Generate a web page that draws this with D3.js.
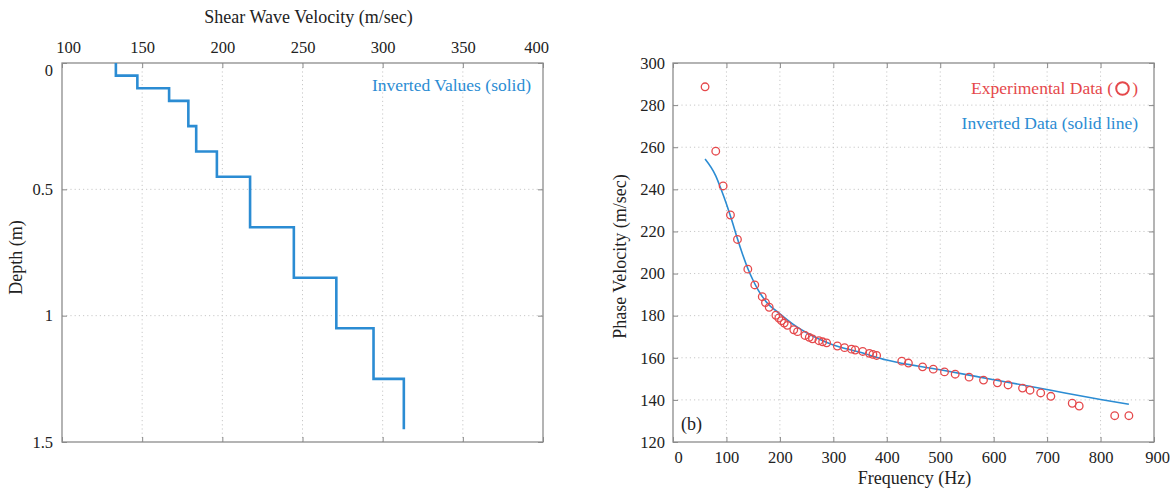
<!DOCTYPE html>
<html>
<head>
<meta charset="utf-8">
<script src="https://cdn.jsdelivr.net/npm/d3@7"></script>
<style>
  body { margin: 0; background: #fff; }
  svg text { font-family: "Liberation Serif", "DejaVu Serif", serif; fill: #222; }
  .grid line { stroke: #c8c8c8; stroke-dasharray: 1.2,3; stroke-width: 1; }
  .ax path { display: none; }
  .ax line { stroke: #888; }
  .ax text { font-size: 16.5px; }
</style>
</head>
<body>
<svg id="chart" width="1172" height="491"></svg>
<script>
// left panel: layered shear-wave velocity profile
var layerTop = [0, 0.05, 0.10, 0.15, 0.25, 0.35, 0.45, 0.65, 0.85, 1.05, 1.25];
var layerBottom = [0.05, 0.10, 0.15, 0.25, 0.35, 0.45, 0.65, 0.85, 1.05, 1.25, 1.45];
var vsLayer = [133.6, 147.0, 166.8, 178.8, 183.7, 196.6, 217.3, 244.6, 271.1, 294.3, 313.2];
var vsTicks = [100, 150, 200, 250, 300, 350, 400];
var depthTicks = [0, 0.5, 1, 1.5];

// right panel: dispersion curve
var expFreq = [60, 80, 93.8, 107.5, 120.6, 140, 153, 167, 173, 180, 192.5, 198, 203, 208, 214,
  226, 233, 247, 255, 261, 273, 280, 287.5, 307.5, 321, 334, 341, 355, 367.5, 374, 381,
  428, 440.5, 467, 487, 508, 528, 554, 581, 607, 627, 654, 668, 688, 707, 747, 760, 826.5, 853];
var expVel = [288.7, 258.1, 241.6, 227.8, 216.2, 202.1, 194.6, 189.0, 186.2, 184.0, 180.2, 178.9, 177.6, 176.5, 175.4,
  173.3, 172.4, 170.6, 169.7, 169.0, 168.1, 167.6, 167.1, 165.6, 164.8, 164.1, 163.7, 163.0, 162.1, 161.6, 161.1,
  158.4, 157.5, 155.7, 154.6, 153.3, 152.2, 150.8, 149.4, 148.1, 147.1, 145.6, 144.6, 143.3, 141.7, 138.4, 137.1, 132.5, 132.5];
var invFreq = [60, 80, 90, 100, 110, 120, 130, 140, 150, 160, 175, 200, 225, 250, 275, 300, 350, 400, 500, 600, 700, 800, 853];
var invVel = [254.4, 246.4, 240.0, 233.0, 225.3, 217.0, 209.3, 202.4, 196.7, 191.9, 186.4, 180.9, 175.9, 171.9, 168.7, 166.1, 162.6, 158.9, 154.3, 149.6, 144.9, 140.2, 137.9];
var freqTicks = [0, 100, 200, 300, 400, 500, 600, 700, 800, 900];
var velTicks = [120, 140, 160, 180, 200, 220, 240, 260, 280, 300];

var blue = "#2b8cd3", red = "#e5484b", tick = 5;
var svg = d3.select("#chart");

function frame(g, x, y, xt, yt, w, h) {
  g.append("g").attr("class", "grid").selectAll("line").data(xt.slice(1, -1)).join("line")
    .attr("x1", x).attr("x2", x).attr("y1", 0).attr("y2", h);
  g.append("g").attr("class", "grid").selectAll("line").data(yt.slice(1, -1)).join("line")
    .attr("y1", y).attr("y2", y).attr("x1", 0).attr("x2", w);
}

function border(g, w, h) {
  g.append("rect").attr("width", w).attr("height", h)
    .attr("fill", "none").attr("stroke", "#8c8c8c").attr("stroke-width", 1.3);
}

// ---- left panel ----
var L = { x: 62, y: 63, w: 481, h: 379 };
var gl = svg.append("g").attr("transform", "translate(" + L.x + "," + L.y + ")");
var xv = d3.scaleLinear().domain([100, 400]).range([0, L.w]);
var yd = d3.scaleLinear().domain([0, 1.5]).range([0, L.h]);
frame(gl, xv, yd, vsTicks, depthTicks, L.w, L.h);

var topAx = gl.append("g").attr("class", "ax")
  .call(d3.axisTop(xv).tickValues(vsTicks).tickSize(-tick).tickSizeOuter(0).tickPadding(10).tickFormat(d3.format("d")));
// end labels sit a little inside the frame, as in the original
topAx.selectAll("text").attr("dx", function (d) { return d === 100 ? 6 : d === 400 ? -7 : 0; });
gl.append("g").attr("class", "ax").attr("transform", "translate(0," + L.h + ")")
  .call(d3.axisBottom(xv).tickValues(vsTicks).tickSize(-tick).tickSizeOuter(0).tickFormat(""));
var leftAx = gl.append("g").attr("class", "ax")
  .call(d3.axisLeft(yd).tickValues(depthTicks).tickSize(-tick).tickSizeOuter(0).tickPadding(9).tickFormat(d3.format("")));
leftAx.selectAll("text").filter(function (d) { return d === 0; }).attr("dy", "0.75em");
gl.append("g").attr("class", "ax").attr("transform", "translate(" + L.w + ",0)")
  .call(d3.axisRight(yd).tickValues(depthTicks).tickSize(-tick).tickSizeOuter(0).tickFormat(""));
border(gl, L.w, L.h);

var stepPts = [];
vsLayer.forEach(function (v, i) {
  stepPts.push([v, layerTop[i]]);
  stepPts.push([v, layerBottom[i]]);
});
gl.append("path").datum(stepPts)
  .attr("fill", "none").attr("stroke", blue).attr("stroke-width", 2.6).attr("stroke-linejoin", "miter")
  .attr("d", d3.line().x(function (d) { return xv(d[0]); }).y(function (d) { return yd(d[1]); }));

gl.append("text").attr("x", 469).attr("y", 28).attr("text-anchor", "end")
  .style("font-size", "17.5px").style("fill", blue).text("Inverted Values (solid)");

svg.append("text").attr("x", L.x + L.w / 2 + 6).attr("y", 23).attr("text-anchor", "middle")
  .style("font-size", "18px").text("Shear Wave Velocity (m/sec)");
svg.append("text").attr("transform", "translate(22," + (L.y + L.h / 2 + 5) + ") rotate(-90)")
  .attr("text-anchor", "middle").style("font-size", "18px").text("Depth (m)");

// ---- right panel ----
var R = { x: 673, y: 63, w: 481, h: 379 };
var gr = svg.append("g").attr("transform", "translate(" + R.x + "," + R.y + ")");
var xf = d3.scaleLinear().domain([0, 900]).range([0, R.w]);
var yp = d3.scaleLinear().domain([120, 300]).range([R.h, 0]);
frame(gr, xf, yp, freqTicks, velTicks, R.w, R.h);

var botAx = gr.append("g").attr("class", "ax").attr("transform", "translate(0," + R.h + ")")
  .call(d3.axisBottom(xf).tickValues(freqTicks).tickSize(-tick).tickSizeOuter(0).tickPadding(9).tickFormat(d3.format("d")));
botAx.selectAll("text").attr("dx", function (d) { return d === 0 ? 5 : d === 900 ? 3 : 0; });
gr.append("g").attr("class", "ax")
  .call(d3.axisTop(xf).tickValues(freqTicks).tickSize(-tick).tickSizeOuter(0).tickFormat(""));
gr.append("g").attr("class", "ax")
  .call(d3.axisLeft(yp).tickValues(velTicks).tickSize(-tick).tickSizeOuter(0).tickPadding(8).tickFormat(d3.format("d")));
gr.append("g").attr("class", "ax").attr("transform", "translate(" + R.w + ",0)")
  .call(d3.axisRight(yp).tickValues(velTicks).tickSize(-tick).tickSizeOuter(0).tickFormat(""));
border(gr, R.w, R.h);

var inv = invFreq.map(function (f, i) { return [f, invVel[i]]; });
gr.append("path").datum(inv)
  .attr("fill", "none").attr("stroke", blue).attr("stroke-width", 1.6)
  .attr("d", d3.line().curve(d3.curveMonotoneX)
    .x(function (d) { return xf(d[0]); }).y(function (d) { return yp(d[1]); }));

gr.append("g").selectAll("circle").data(expFreq).join("circle")
  .attr("cx", function (d) { return xf(d); })
  .attr("cy", function (d, i) { return yp(expVel[i]); })
  .attr("r", 3.8).attr("fill", "none").attr("stroke", red).attr("stroke-width", 1.3);

gr.append("text").attr("x", 440).attr("y", 31).attr("text-anchor", "end")
  .style("font-size", "17.5px").style("fill", red).text("Experimental Data (");
gr.append("circle").attr("cx", 449.5).attr("cy", 25.5).attr("r", 6.3)
  .attr("fill", "none").attr("stroke", red).attr("stroke-width", 2);
gr.append("text").attr("x", 465).attr("y", 31).attr("text-anchor", "end")
  .style("font-size", "17.5px").style("fill", red).text(")");
gr.append("text").attr("x", 465).attr("y", 66).attr("text-anchor", "end")
  .style("font-size", "17.5px").style("fill", blue).text("Inverted Data (solid line)");
gr.append("text").attr("x", 8).attr("y", 367)
  .style("font-size", "18px").text("(b)");

svg.append("text").attr("x", R.x + R.w / 2 + 1).attr("y", 484).attr("text-anchor", "middle")
  .style("font-size", "18px").text("Frequency (Hz)");
svg.append("text").attr("transform", "translate(626," + (R.y + R.h / 2 + 4) + ") rotate(-90)")
  .attr("text-anchor", "middle").style("font-size", "18px").text("Phase Velocity (m/sec)");
</script>
</body>
</html>
